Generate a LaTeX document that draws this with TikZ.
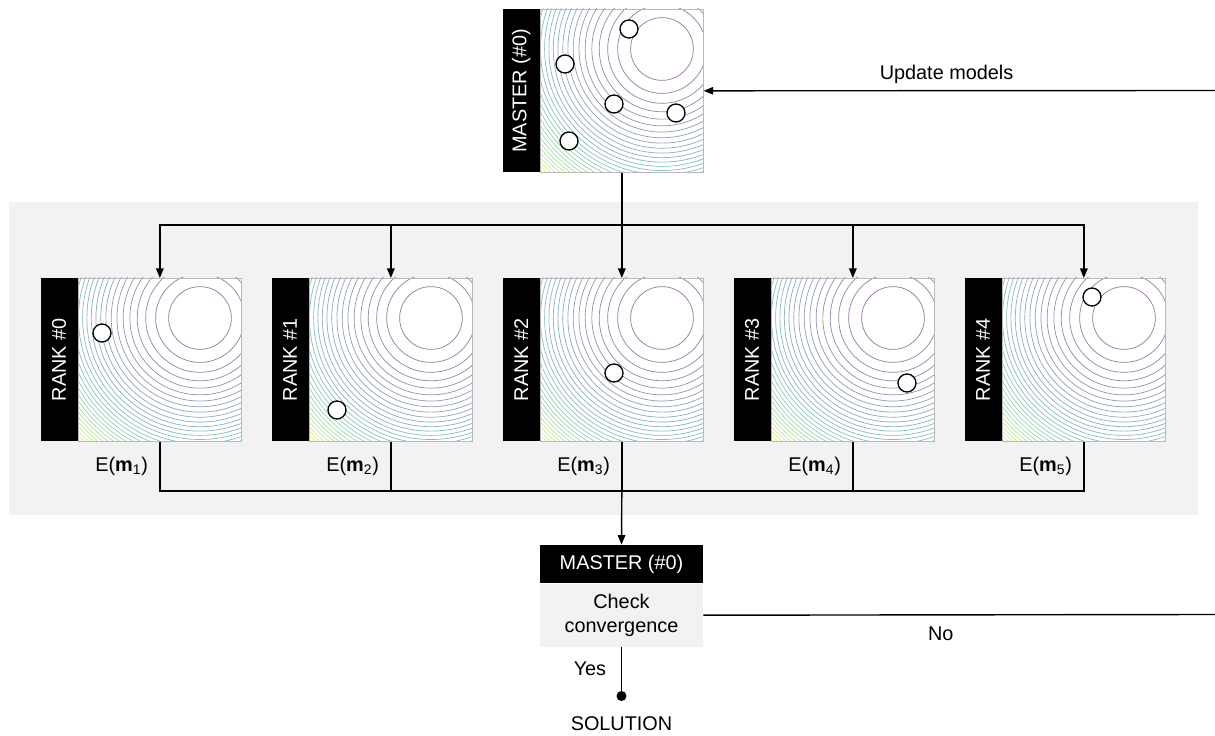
\documentclass[tikz,border=0pt]{standalone}
\usepackage{fontspec}
\setmainfont{Liberation Sans}
\usepackage{graphicx}
\usetikzlibrary{arrows.meta, positioning}

\definecolor{vA}{RGB}{68,1,84}
\definecolor{vB}{RGB}{59,82,139}
\definecolor{vC}{RGB}{33,145,140}
\definecolor{vD}{RGB}{94,201,98}
\definecolor{vE}{RGB}{253,231,37}
\definecolor{panelgray}{RGB}{242,242,242}

\newcommand{\contours}[2]{%
  \begin{scope}
    \clip (#1,#2) rectangle ++(163,163);
    \foreach \k in {1,...,31}{
      \pgfmathsetmacro\lev{(\k-1)/30*4}
      \pgfmathtruncatemacro\cseg{min(floor(\lev),3)}
      \pgfmathtruncatemacro\cpc{100-100*(\lev-\cseg)}
      \ifcase\cseg \colorlet{lc}{vA!\cpc!vB}\or \colorlet{lc}{vB!\cpc!vC}\or
        \colorlet{lc}{vC!\cpc!vD}\or \colorlet{lc}{vD!\cpc!vE}\fi
      \draw[ring, lc] (#1+122,#2+40) circle[radius={17.86pt*sqrt(\k)}];
    }
  \end{scope}}

\begin{document}
\begin{tikzpicture}[
    x=0.02cm, y=-0.02cm,
    every node/.style={font=\fontsize{11.3}{13.6}\selectfont},
    plot/.style={anchor=north west, minimum size=3.26cm, inner sep=0pt, fill=white},
    strip/.style={fill=black, text=white, inner sep=0pt,
                  minimum width=0.74cm, minimum height=3.26cm},
    frame/.style={draw=gray!55, line width=0.4pt},
    ring/.style={line width=0.4pt, opacity=0.55},
    dot/.style={circle, draw, fill=white, line width=0.75pt, inner sep=0pt,
                minimum size=0.36cm},
    head/.style={fill=black, text=white, inner sep=0pt,
                 minimum width=3.26cm, minimum height=0.76cm},
    body/.style={fill=panelgray, align=center, inner sep=0pt,
                 minimum width=3.26cm, minimum height=1.26cm},
    arrow/.style={-{Triangle[length=1.9mm, width=1.5mm]}, line width=0.8pt},
    line/.style={line width=0.8pt}
]
    \useasboundingbox (0,0) rectangle (1215,736);
    \fill[panelgray] (9,202) rectangle (1198,515);

    \node[plot] (mimg) at (540,9) {};
    \contours{540}{9}
    \draw[frame] (mimg.north west) rectangle (mimg.south east);
    \node[strip, left=0pt of mimg] (mlab) {\rotatebox{90}{MASTER (\#0)}};
    \foreach \px/\py [count=\c] in {629/29, 565/64, 614/104, 676/113, 569/141}
        \node[dot] (m\c) at (\px,\py) {};

    \foreach \i in {0,...,4}{
        \pgfmathsetmacro\xl{78+231*\i}
        \node[plot] (img\i) at (\xl,278) {};
        \contours{\xl}{278}
        \draw[frame] (img\i.north west) rectangle (img\i.south east);
        \node[strip, left=0pt of img\i] (lab\i) {\rotatebox{90}{RANK \#\i}};
    }
    \foreach \px/\py [count=\c] in {102/333, 337/410, 614/373, 907/383, 1092/297}
        \node[dot] (p\c) at (\px,\py) {};

    \coordinate (busT) at (mimg.south |- 0,225);
    \coordinate (busB) at (img2.south |- 0,491);
    \foreach \i in {0,...,4}
        \draw[arrow] (mimg.south) -- (busT) -| (img\i.north);
    \foreach \i in {0,...,4}{
        \pgfmathtruncatemacro\n{\i+1}
        \draw[line] (img\i.south) -- node[left=3pt] (e\i)
            {E(\textbf{m}\textsubscript{\n})} (img\i.south |- busB) -- (busB);
    }

    \node[head] (chkhead) at (621.5,564) {MASTER (\#0)};
    \node[body, below=0pt of chkhead] (chkbody) {Check\\convergence};
    \draw[arrow] (busB) -- (chkhead.north);

    \node[circle, fill=black, inner sep=0pt, minimum size=0.2cm] (soldot) at (621.5,696) {};
    \draw[line] (chkbody) -- node[left=5pt] (yes) {Yes} (soldot);
    \node[below=5pt of soldot] (sol) {SOLUTION};

    \coordinate (noout) at (1215,614.5);
    \draw[line] (chkbody.east) -- node[pos=0.464, below=3pt] (no) {No} (noout);
    \coordinate (updin) at (1215,90.5);
    \draw[arrow] (updin) -- node[pos=0.525, above] (upd) {Update models} (mimg.east);
\end{tikzpicture}
\end{document}
